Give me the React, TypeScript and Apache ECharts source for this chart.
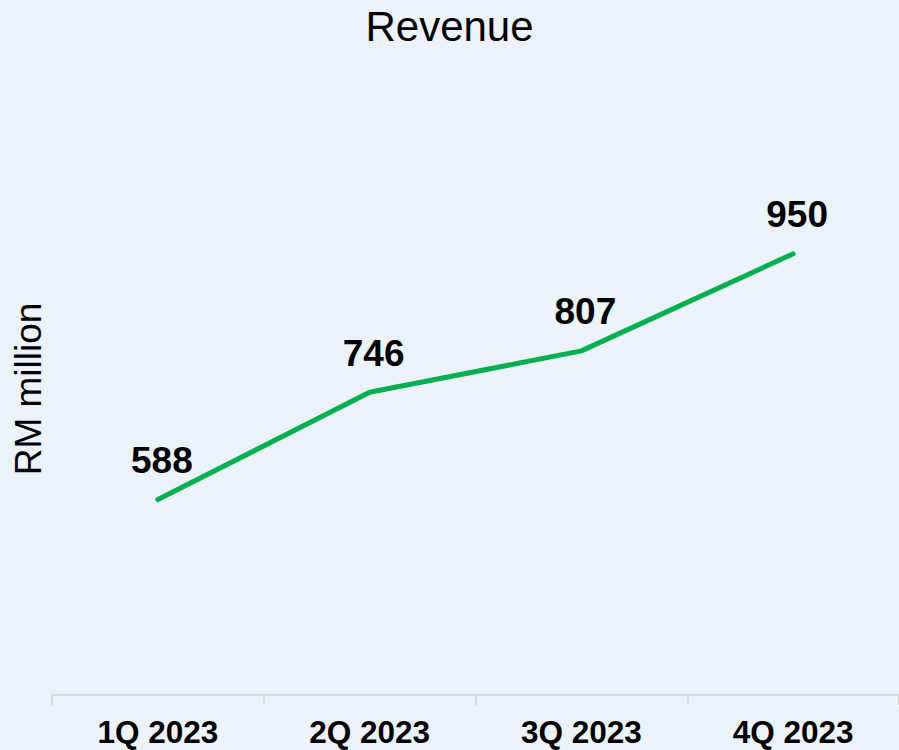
import React, { useEffect, useRef } from "react";
import * as echarts from "echarts";

const categories = ["1Q 2023", "2Q 2023", "3Q 2023", "4Q 2023"];
const revenue = [588, 746, 807, 950];
const titleText = "Revenue";
const yAxisName = "RM million";

export default function App() {
  const ref = useRef<HTMLDivElement>(null);
  useEffect(() => {
    document.body.style.margin = "0";
    const chart = echarts.init(ref.current!, null, { renderer: "svg" });
    const font = "'Liberation Sans', Arial, Helvetica, sans-serif";
    chart.setOption({
      animation: false,
      backgroundColor: "#EBF2F9",
      title: {
        text: titleText,
        left: "center",
        top: 5,
        padding: 0,
        textStyle: { fontFamily: font, fontSize: 42, fontWeight: "normal", color: "#000" },
      },
      graphic: [
        {
          type: "text",
          x: 28,
          y: 389,
          rotation: Math.PI / 2,
          style: {
            text: yAxisName,
            fontFamily: font,
            fontSize: 37,
            fill: "#000",
            align: "center",
            verticalAlign: "middle",
          },
        },
      ],
      grid: { left: 52, right: 0, top: 152, bottom: 55 },
      xAxis: {
        type: "category",
        data: categories,
        boundaryGap: true,
        axisLine: { show: true, lineStyle: { color: "#D9D9D9", width: 2 } },
        axisTick: { show: true, length: 10, lineStyle: { color: "#D9D9D9", width: 2 } },
        axisLabel: {
          margin: 21,
          fontFamily: font,
          fontSize: 31.5,
          fontWeight: "bold",
          color: "#000",
        },
      },
      yAxis: {
        type: "value",
        min: 300,
        max: 1100,
        show: false,
        splitLine: { show: false },
      },
      series: [
        {
          type: "line",
          data: revenue,
          symbol: "circle",
          symbolSize: 1,
          showSymbol: true,
          itemStyle: { color: "#00B050" },
          lineStyle: { color: "#00B050", width: 5, cap: "round" },
          label: {
            show: true,
            position: "top",
            distance: 20,
            offset: [4, 0],
            fontFamily: font,
            fontSize: 37,
            fontWeight: "bold",
            color: "#000",
          },
        },
      ],
    });
    return () => chart.dispose();
  }, []);
  return <div ref={ref} style={{ width: 899, height: 750 }} />;
}
